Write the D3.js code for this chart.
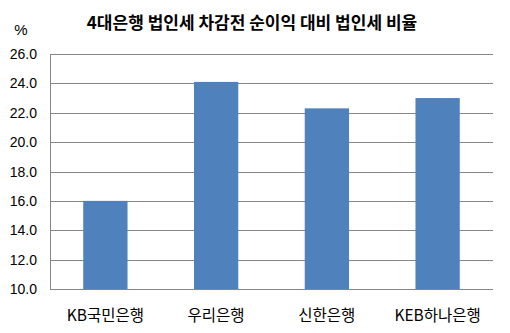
<!DOCTYPE html>
<html><head>
<meta charset="utf-8">
<script src="https://d3js.org/d3.v7.min.js"></script>
<style>
  body { margin: 0; background: #fff; }
  text { font-family: "Noto Sans CJK KR", "Liberation Sans", sans-serif; fill: #000; }
</style>
</head>
<body>
<svg id="chart" width="510" height="333"></svg>
<script>
// Data
const banks = ["KB국민은행", "우리은행", "신한은행", "KEB하나은행"];
const ratios = [16.0, 24.1, 22.3, 23.0];
const yTicks = [10, 12, 14, 16, 18, 20, 22, 24, 26];

const svg = d3.select("#chart");
// plot area edges
const plotL = 50, plotR = 493, plotT = 54, plotB = 289;

const x = d3.scaleBand().domain(banks).range([plotL, plotR])
            .paddingInner(0.6).paddingOuter(0.3);
const y = d3.scaleLinear().domain([10, 26]).range([plotB, plotT]);

// gridlines
svg.append("g").selectAll("line").data(yTicks).join("line")
   .attr("x1", plotL).attr("x2", plotR)
   .attr("y1", d => Math.round(y(d)) + 0.5).attr("y2", d => Math.round(y(d)) + 0.5)
   .attr("stroke", "#868686").attr("stroke-width", 1);

// left axis line
svg.append("line")
   .attr("x1", plotL + 0.5).attr("x2", plotL + 0.5)
   .attr("y1", plotT).attr("y2", plotB)
   .attr("stroke", "#868686");

// tick labels
svg.append("g").selectAll("text").data(yTicks).join("text")
   .attr("x", 37).attr("y", d => y(d) + 5)
   .attr("text-anchor", "end")
   .style("font-family", "'Liberation Sans', sans-serif")
   .style("font-size", "14px")
   .text(d => d.toFixed(1));

// bars
svg.append("g").selectAll("rect").data(ratios).join("rect")
   .attr("x", (d, i) => x(banks[i]))
   .attr("width", x.bandwidth())
   .attr("y", d => y(d))
   .attr("height", d => plotB - y(d))
   .attr("fill", "#4f81bd");

// category labels
svg.append("g").selectAll("text").data(banks).join("text")
   .attr("x", d => x(d) + x.bandwidth() / 2)
   .attr("y", 321)
   .attr("text-anchor", "middle")
   .style("font-size", "15.5px")
   .text(d => d);

// title and unit
svg.append("text").attr("x", 252).attr("y", 29)
   .attr("text-anchor", "middle")
   .style("font-size", "17px").style("font-weight", "bold")
   .text("4대은행 법인세 차감전 순이익 대비 법인세 비율");

svg.append("text").attr("x", 21).attr("y", 35)
   .attr("text-anchor", "middle")
   .style("font-family", "'Liberation Sans', sans-serif")
   .style("font-size", "15px")
   .text("%");
</script>
</body>
</html>
